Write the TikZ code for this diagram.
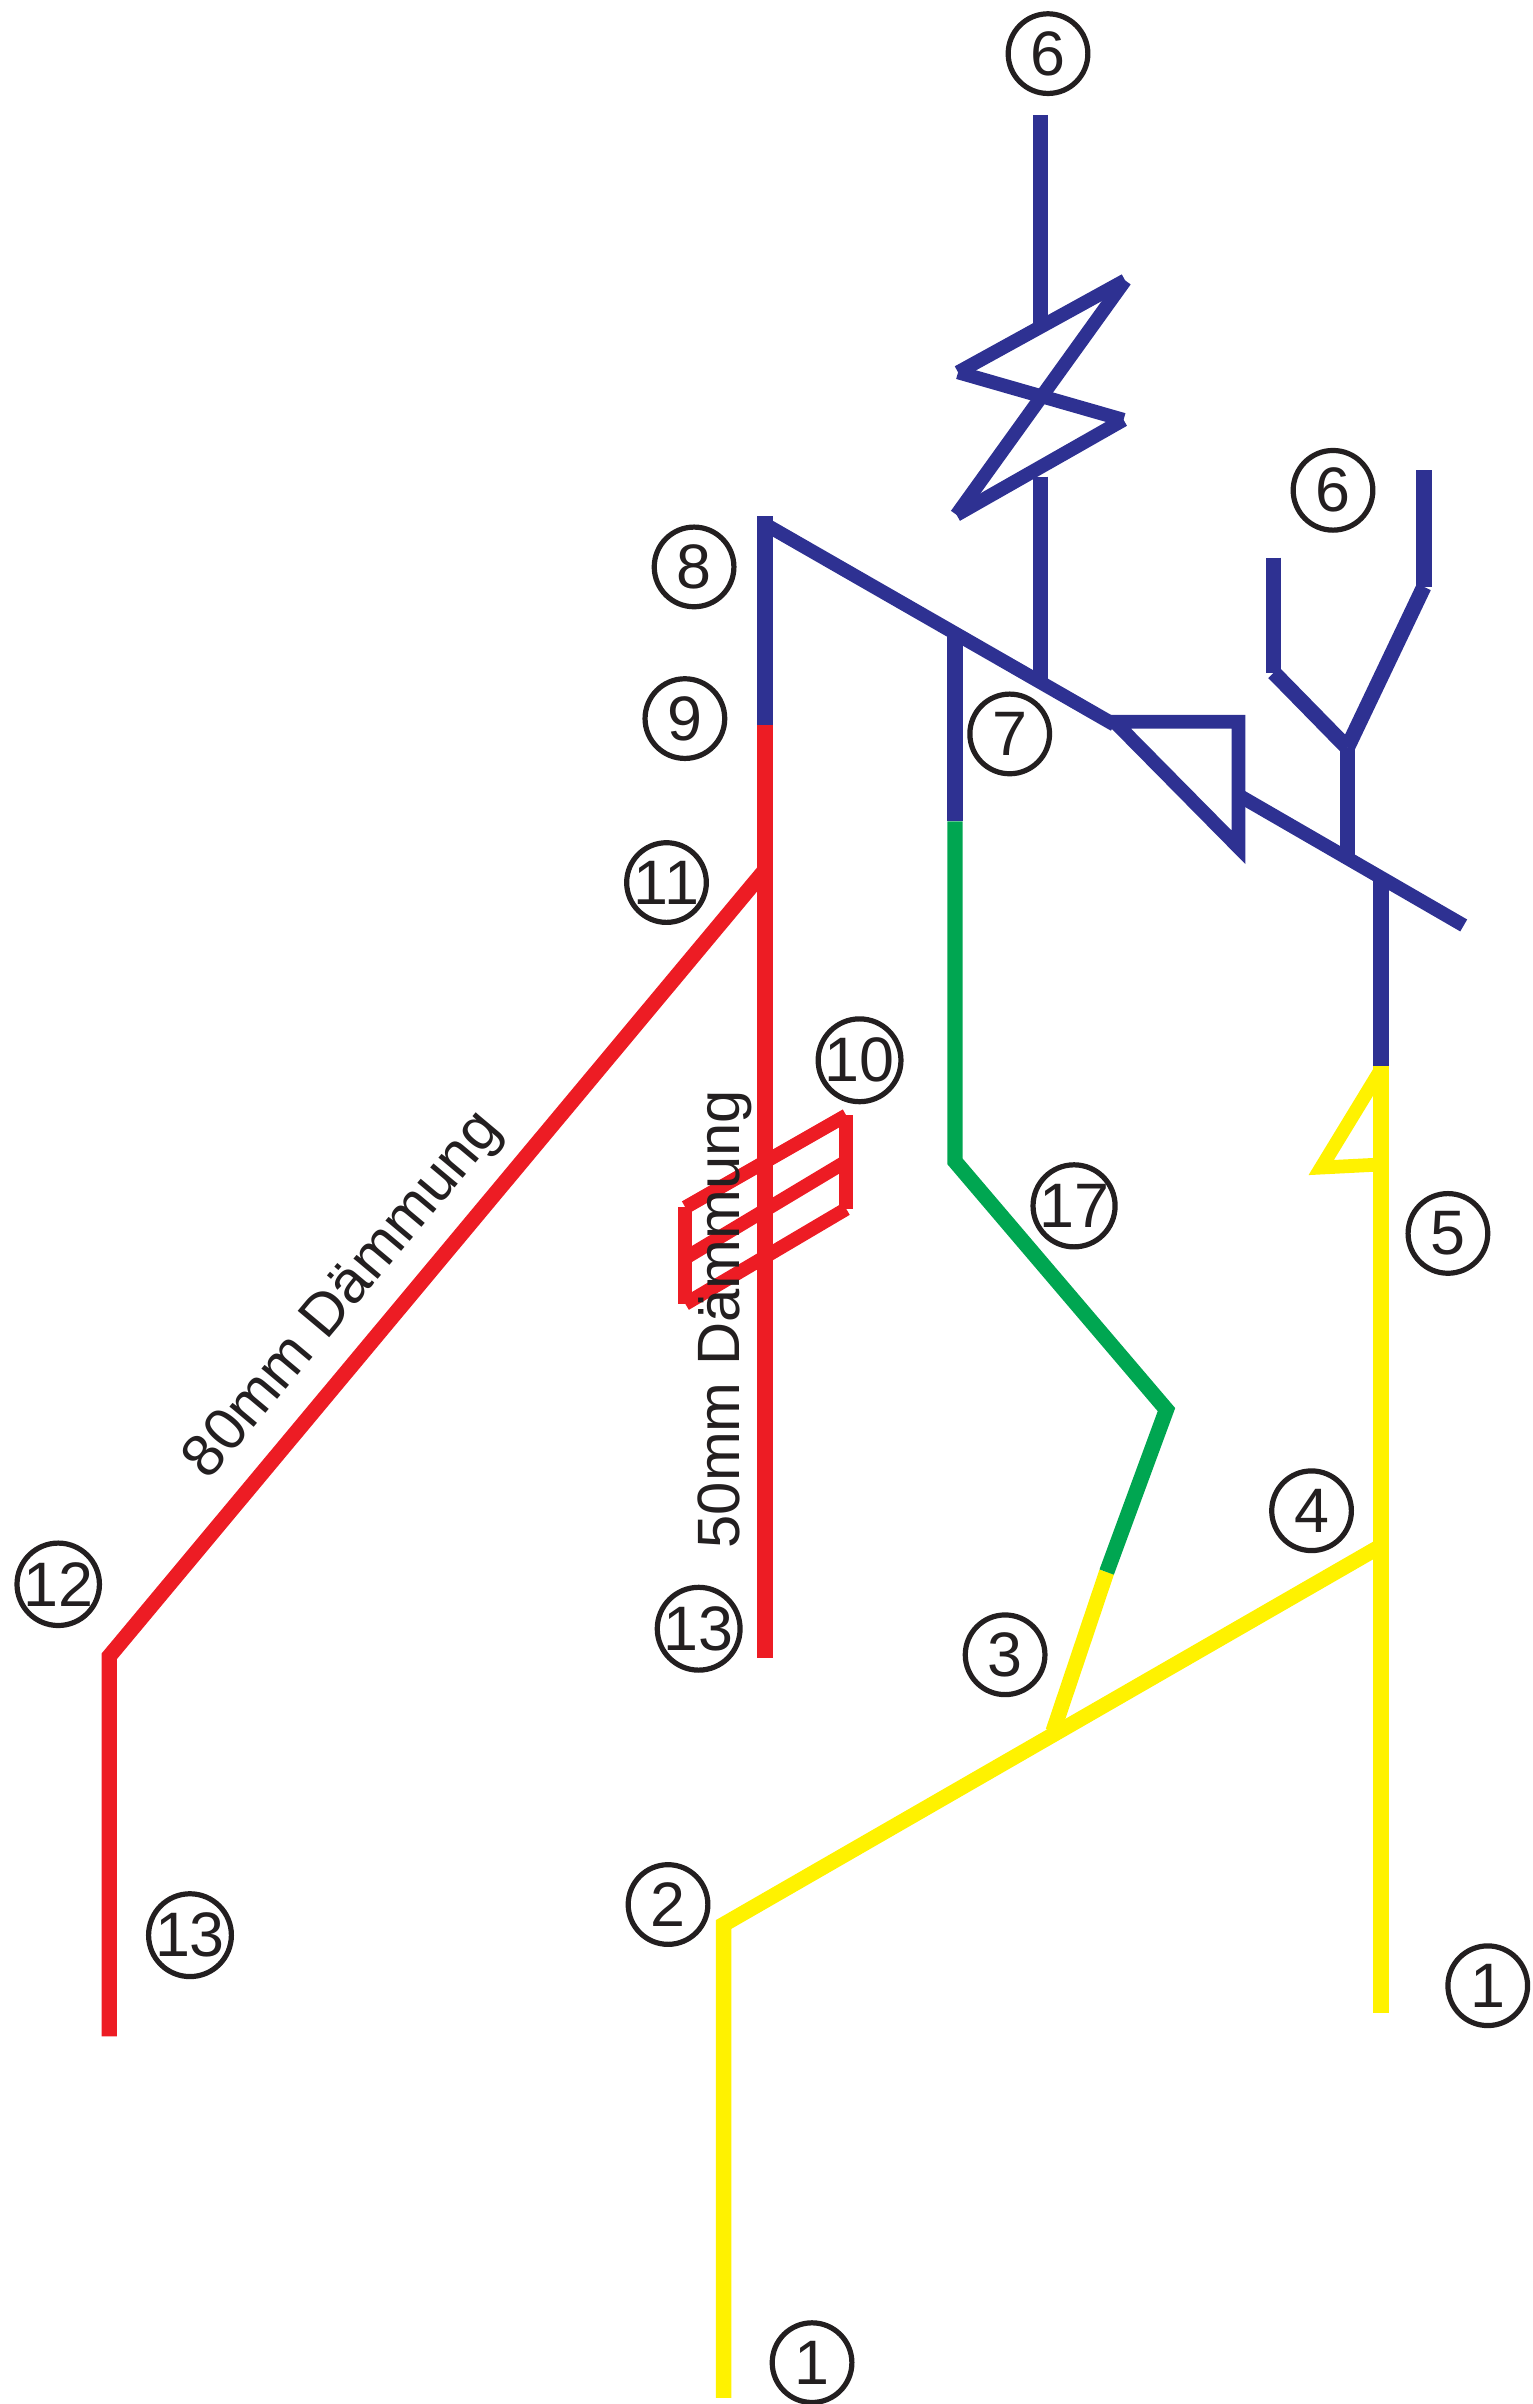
\documentclass[tikz,border=0pt]{standalone}
\usepackage{fontspec}
\setmainfont{Liberation Sans}
\definecolor{pblue}{HTML}{2E3192}
\definecolor{pred}{HTML}{ED1C24}
\definecolor{pgreen}{HTML}{00A651}
\definecolor{pyellow}{HTML}{FFF200}
\definecolor{ink}{HTML}{231F20}
\tikzset{
  pipe/.style={line width=10pt,line join=miter,miter limit=6},
  thin pipe/.style={line width=9pt,line join=miter,miter limit=6},
  num/.style={circle,draw=ink,line width=3.4pt,minimum size=52pt,inner sep=0pt,text=ink,font=\fontsize{41}{41}\selectfont},
  lab/.style={text=ink,inner sep=0pt,font=\fontsize{39}{39}\selectfont}
}
\begin{document}
\begin{tikzpicture}[x=1pt,y=-1pt]
\useasboundingbox (0,0) rectangle (1000,1569);
% points
\begin{scope}[shift={(-0.7,0)}]
\coordinate (a1) at (680,75);
\coordinate (a2) at (680,211);
\coordinate (a3) at (680,311);
\coordinate (a4) at (680,443);
\coordinate (z1) at (735,183);
\coordinate (z2) at (626,243);
\coordinate (z3) at (734,274);
\coordinate (z4) at (625,336);
\coordinate (m0) at (498,341);
\coordinate (m1) at (728,473);
\coordinate (t1) at (809,471);
\coordinate (t2) at (809,553);
\coordinate (t0) at (728,471);
\coordinate (m2) at (809,519);
\coordinate (m3) at (956,604);
\coordinate (b1) at (624,412);
\coordinate (b2) at (624,536);
\coordinate (g1) at (624,758);
\coordinate (g2) at (762,920);
\coordinate (g3) at (723,1026);
\coordinate (y3) at (688,1130);
\coordinate (c1) at (500,337);
\coordinate (c2) at (500,473);
\coordinate (c3) at (500,1082);
\coordinate (r1) at (499,569);
\coordinate (r2) at (72,1081);
\coordinate (r3) at (72,1329);
\coordinate (d1) at (902,574);
\coordinate (d2) at (902,696);
\coordinate (d3) at (902,1314);
\coordinate (y1) at (902,698);
\coordinate (y2) at (863,762);
\coordinate (y4) at (902,760);
\coordinate (e1) at (473,1565);
\coordinate (e2) at (473,1256);
\coordinate (e3) at (902,1009);
\coordinate (f1) at (880,558);
\coordinate (f2) at (880,488);
\coordinate (f3) at (832,364);
\coordinate (f4) at (832,439);
\coordinate (f5) at (930,383);
\coordinate (f6) at (930,307);
\coordinate (h1) at (553,728);
\coordinate (h2) at (448,788);
\coordinate (h3) at (553,758);
\coordinate (h4) at (448,821);
\coordinate (h5) at (553,789);
\coordinate (h6) at (448,851);
\end{scope}
% red
\draw[pipe,pred] (c2) -- (c3);
\draw[pipe,pred] (r1) -- (r2) -- (r3);
\draw[thin pipe,pred] (h1) -- (h2);
\draw[thin pipe,pred] (h3) -- (h4);
\draw[thin pipe,pred] (h5) -- (h6);
\draw[thin pipe,pred] (h1) -- (h5);
\draw[thin pipe,pred] (h2) -- (h6);
% yellow
\draw[pipe,pyellow] (d2) -- (d3);
\draw[thin pipe,pyellow] (y1) -- (y2) -- (y4);
\draw[pipe,pyellow] (e1) -- (e2) -- (e3);
\draw[pipe,pyellow] (g3) -- (y3);
% green
\draw[pipe,pgreen] (b2) -- (g1) -- (g2) -- (g3);
% blue
\draw[pipe,pblue] (a1) -- (a2);
\draw[pipe,pblue] (a3) -- (a4);
\draw[thin pipe,pblue] (z1) -- (z2);
\draw[thin pipe,pblue] (z2) -- (z3);
\draw[thin pipe,pblue] (z3) -- (z4);
\draw[thin pipe,pblue] (z4) -- (z1);
\draw[thin pipe,pblue] (m0) -- (m1);
\draw[thin pipe,pblue] (t0) -- (t1) -- (t2) -- cycle;
\draw[thin pipe,pblue] (m2) -- (m3);
\draw[pipe,pblue] (b1) -- (b2);
\draw[pipe,pblue] (c1) -- (c2);
\draw[pipe,pblue] (d1) -- (d2);
\draw[pipe,pblue] (f1) -- (f2);
\draw[pipe,pblue] (f3) -- (f4);
\draw[pipe,pblue] (f4) -- (f2);
\draw[pipe,pblue] (f2) -- (f5);
\draw[pipe,pblue] (f5) -- (f6);
% texts
\node[lab,rotate=90] (t50) at (473,861) {50mm Dämmung};
\node[lab,rotate=50] (t80) at (225,846) {80mm Dämmung};
% numbered circles
\node[num] (n6a) at (684,35) {6};
\node[num] (n6b) at (870,320) {6};
\node[num] (n8) at (453,370) {8};
\node[num] (n9) at (447,469) {9};
\node[num] (n7) at (659,479) {7};
\node[num] (n11) at (435,576) {11};
\node[num] (n10) at (561,692) {10};
\node[num] (n17) at (701,787) {17};
\node[num] (n5) at (945,805) {5};
\node[num] (n4) at (856,986) {4};
\node[num] (n12) at (38,1034) {12};
\node[num] (n13a) at (456,1063) {13};
\node[num] (n3) at (656,1080) {3};
\node[num] (n2) at (436,1243) {2};
\node[num] (n13b) at (124,1263) {13};
\node[num] (n1a) at (971,1296) {1};
\node[num] (n1b) at (530,1542) {1};
\end{tikzpicture}
\end{document}
